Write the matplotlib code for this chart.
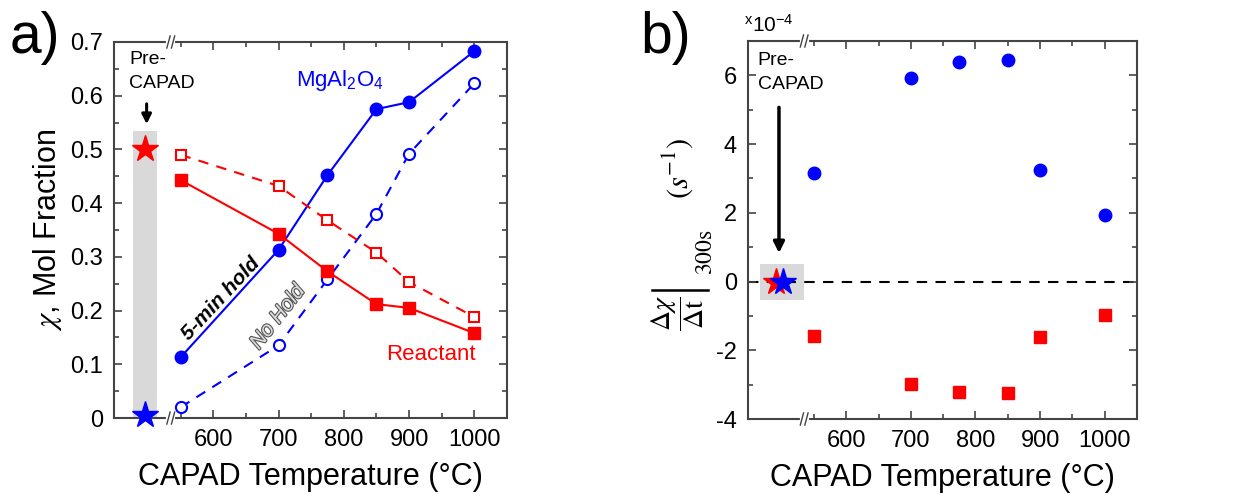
import matplotlib
matplotlib.use("Agg")
import matplotlib.pyplot as plt
import matplotlib.patheffects as pe
from matplotlib.lines import Line2D
from matplotlib.ticker import FixedLocator, MultipleLocator, FuncFormatter

plt.rcParams["font.family"] = ["Liberation Sans", "DejaVu Sans"]
plt.rcParams["mathtext.fontset"] = "stix"
plt.rcParams["axes.unicode_minus"] = False

BLUE = "#0000ff"
RED = "#ff0000"
AXIS_GREY = "#444444"
BAND_GREY = "#d9d9d9"

# CAPAD temperatures (degC)
temps = [550, 700, 775, 850, 900, 1000]
pre_capad_x = 496

# mol fraction, panel a
spinel_hold = [0.113, 0.313, 0.452, 0.575, 0.588, 0.683]
spinel_nohold = [0.020, 0.135, 0.258, 0.380, 0.492, 0.623]
reactant_hold = [0.443, 0.343, 0.273, 0.212, 0.205, 0.158]
reactant_nohold = [0.490, 0.432, 0.368, 0.308, 0.253, 0.188]
pre_spinel = 0.005
pre_reactant = 0.5

# rate of change at 300 s (x1e-4 s^-1), panel b
spinel_rate = [3.15, 5.92, 6.38, 6.45, 3.25, 1.95]
reactant_rate = [-1.58, -2.97, -3.20, -3.23, -1.62, -0.98]
pre_rate = 0.0

XLIM = (448, 1050)
XTICKS = [600, 700, 800, 900, 1000]
XMINOR = [550, 650, 750, 850, 950]
BREAK_X = 535

W, H = 1247, 498


def px(x, y):
    # pixel position (from top-left) -> figure fraction
    return x / W, 1 - y / H


def style_axes(ax):
    for sp in ax.spines.values():
        sp.set_color(AXIS_GREY)
        sp.set_linewidth(1.5)
    ax.set_xlim(*XLIM)
    ax.xaxis.set_major_locator(FixedLocator(XTICKS))
    ax.xaxis.set_minor_locator(FixedLocator(XMINOR))
    ax.tick_params(which="both", direction="in", top=True, right=True,
                   color=AXIS_GREY, width=1.2)
    ax.tick_params(which="major", length=6, labelsize=17, pad=8)
    ax.tick_params(which="minor", length=3.5)


def draw_break(ax, x):
    trans = ax.get_xaxis_transform()
    for yy in (0, 1):
        ax.plot([x - 4, x + 4], [yy, yy], color="white", lw=3,
                transform=trans, clip_on=False, zorder=5)
        for dx in (-3.5, 3.5):
            ax.plot([x + dx - 2.5, x + dx + 2.5], [yy - 0.016, yy + 0.016],
                    color=AXIS_GREY, lw=1, transform=trans, clip_on=False, zorder=6)


fig = plt.figure(figsize=(12.47, 4.98), dpi=100)
ax_a = fig.add_axes([0.0914, 0.1606, 0.3152, 0.7551])
ax_b = fig.add_axes([0.5998, 0.1586, 0.3120, 0.7591])

# ---- panel a: mol fraction vs temperature
ax_a.axvspan(477, 514, ymin=0, ymax=0.535 / 0.7, color=BAND_GREY, lw=0, zorder=0)
ax_a.plot(temps, spinel_hold, "-o", color=BLUE, lw=1.5, ms=9, zorder=3)
ax_a.plot(temps, spinel_nohold, "--o", color=BLUE, lw=1.5, ms=8, mfc="white",
          mew=1.5, dashes=(5, 4), zorder=3)
ax_a.plot(temps, reactant_hold, "-s", color=RED, lw=1.5, ms=8, zorder=3)
ax_a.plot(temps, reactant_nohold, "--s", color=RED, lw=1.5, ms=7.5, mfc="white",
          mew=1.5, dashes=(5, 4), zorder=3)
ax_a.plot([pre_capad_x], [pre_reactant], "*", color=RED, ms=20, clip_on=False, zorder=4)
ax_a.plot([pre_capad_x], [pre_spinel], "*", color=BLUE, ms=20, clip_on=False, zorder=4)

ax_a.set_ylim(0, 0.7)
ax_a.yaxis.set_major_locator(MultipleLocator(0.1))
ax_a.yaxis.set_minor_locator(MultipleLocator(0.05))
ax_a.yaxis.set_major_formatter(FuncFormatter(lambda v, _: "0" if abs(v) < 1e-9 else f"{v:.1f}"))
style_axes(ax_a)
draw_break(ax_a, BREAK_X)

ax_a.set_xlabel("CAPAD Temperature (°C)", fontsize=22, labelpad=8)
ax_a.set_ylabel(r"$\chi$, Mol Fraction", fontsize=22, labelpad=4)

ax_a.text(471, 0.684, "Pre-\nCAPAD", fontsize=14, ha="left", va="top", linespacing=1.6)
ax_a.annotate("", xy=(498, 0.542), xytext=(498, 0.590),
              arrowprops=dict(arrowstyle="-|>", color="black", lw=2.2, mutation_scale=14))
ax_a.text(794, 0.629, r"MgAl$\mathregular{_2}$O$\mathregular{_4}$", color=BLUE,
          fontsize=16, ha="center", va="center")
ax_a.text(933, 0.118, "Reactant", color=RED, fontsize=16, ha="center", va="center")
ax_a.text(612, 0.222, "5-min hold", fontsize=15, fontweight="bold", style="italic",
          rotation=47, rotation_mode="anchor", ha="center", va="center")
ax_a.text(699, 0.188, "No Hold", fontsize=15, style="italic", color="#dddddd",
          rotation=52, rotation_mode="anchor", ha="center", va="center",
          path_effects=[pe.withStroke(linewidth=1.6, foreground="#555555")])

# ---- panel b: rate of change at 300 s
ax_b.axhline(0, color="black", lw=1.5, dashes=(5, 4), zorder=1)
ax_b.fill_between([466, 534], -0.55, 0.52, color=BAND_GREY, lw=0, zorder=0)
ax_b.plot(temps, spinel_rate, "o", color=BLUE, ms=9, ls="none", zorder=3)
ax_b.plot(temps, reactant_rate, "s", color=RED, ms=8.5, ls="none", zorder=3)
ax_b.plot([491], [pre_rate], "*", color=RED, ms=20, zorder=4)
ax_b.plot([503], [pre_rate], "*", color=BLUE, ms=20, zorder=4)

ax_b.set_ylim(-4, 7)
ax_b.yaxis.set_major_locator(FixedLocator([-4, -2, 0, 2, 4, 6]))
ax_b.yaxis.set_minor_locator(FixedLocator([-3, -1, 1, 3, 5]))
ax_b.yaxis.set_major_formatter(FuncFormatter(lambda v, _: f"{v:.0f}"))
style_axes(ax_b)
draw_break(ax_b, BREAK_X)

ax_b.set_xlabel("CAPAD Temperature (°C)", fontsize=22, labelpad=8)

# y label of panel b: evaluated-at bar built from pieces
fig.text(*px(678, 313), r"$\dfrac{\Delta\chi}{\Delta\mathrm{t}}$", fontsize=20,
         rotation=90, ha="center", va="center")
bx0, by = px(652, 290)
bx1, _ = px(708, 290)
fig.add_artist(Line2D([bx0, bx1], [by, by], color="black", lw=1.8,
                      transform=fig.transFigure))
fig.text(*px(706, 252), r"$\mathrm{300s}$", fontsize=17, rotation=90,
         ha="center", va="center")
fig.text(*px(678, 168), r"$(s^{-1})$", fontsize=22, rotation=90,
         ha="center", va="center")

ax_b.text(463, 6.68, "Pre-\nCAPAD", fontsize=14, ha="left", va="top", linespacing=1.55)
ax_b.annotate("", xy=(496, 0.75), xytext=(496, 5.15),
              arrowprops=dict(arrowstyle="-|>", color="black", lw=2.5, mutation_scale=16))
ax_b.text(-0.01, 1.015, r"$\mathregular{^x10^{-4}}$", transform=ax_b.transAxes,
          fontsize=15, ha="left", va="bottom")

# panel letters
fig.text(*px(10, 38), "a)", fontsize=41, ha="left", va="center")
fig.text(*px(640, 38), "b)", fontsize=41, ha="left", va="center")

fig.savefig("out.png", dpi=100)
